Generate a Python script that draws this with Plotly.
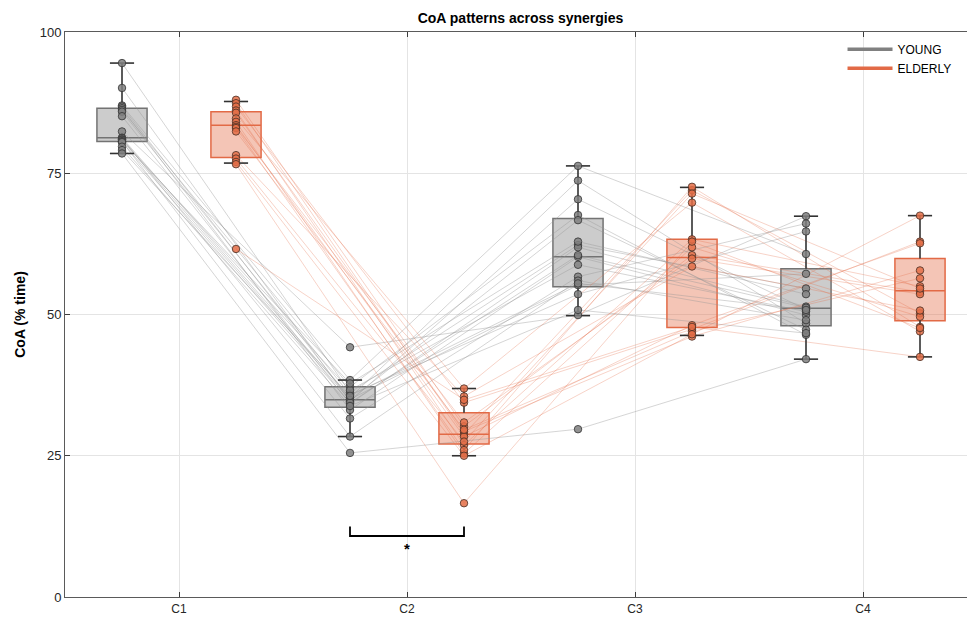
import plotly.graph_objects as go

# ---------------- data ----------------
categories = ["C1", "C2", "C3", "C4"]
cat_pos = [1, 2, 3, 4]
young_offset = -0.25
elderly_offset = 0.25

# per-subject CoA (% time), young (n=19)
young_c1 = [94.5, 90.1, 87.0, 86.8, 86.5, 86.2, 85.9, 85.1, 82.4, 81.3, 81.2, 81.0, 80.9, 80.7, 80.6, 80.5, 79.7, 79.1, 78.5]
young_c2 = [36.2, 34.6, 38.4, 35.0, 33.1, 37.2, 35.8, 34.2, 44.2, 35.3, 31.6, 36.6, 34.9, 37.8, 28.4, 34.4, 33.8, 35.6, 25.5]
young_c3 = [62.3, 70.4, 76.3, 55.2, 60.2, 67.6, 53.6, 61.9, 49.9, 73.7, 56.7, 58.8, 66.7, 62.9, 56.0, 60.5, 50.8, 55.5, 29.7]
young_c4 = [54.6, 50.9, 60.7, 57.2, 49.9, 46.4, 64.7, 51.4, 67.4, 48.4, 66.1, 50.5, 47.3, 53.6, 49.0, 51.2, 46.7, 50.8, 42.1]

# per-subject CoA (% time), elderly (n=16)
elderly_c1 = [88.0, 87.4, 86.8, 86.1, 85.7, 84.7, 84.1, 83.5, 83.2, 83.0, 82.4, 78.2, 77.6, 77.0, 76.6, 61.6]
elderly_c2 = [30.2, 28.8, 34.4, 26.9, 29.3, 36.9, 25.4, 28.4, 30.9, 26.0, 29.6, 35.5, 27.5, 25.0, 16.6, 34.9]
elderly_c3 = [60.5, 72.0, 47.4, 63.3, 46.1, 69.8, 61.9, 48.1, 59.9, 72.6, 47.0, 58.5, 71.4, 46.5, 62.9, 47.8]
elderly_c4 = [54.0, 50.2, 62.9, 55.0, 57.8, 47.0, 49.6, 62.6, 53.6, 47.8, 56.4, 50.7, 54.6, 67.5, 47.6, 42.5]

# box statistics
young_q1 = [80.6, 33.6, 54.9, 48.0]
young_med = [81.3, 34.9, 60.2, 51.1]
young_q3 = [86.5, 37.2, 67.0, 58.1]
young_lo = [78.5, 28.4, 49.8, 42.1]
young_hi = [94.5, 38.4, 76.3, 67.4]

elderly_q1 = [77.8, 27.1, 47.7, 48.9]
elderly_med = [83.5, 28.8, 60.1, 54.2]
elderly_q3 = [85.9, 32.6, 63.3, 59.9]
elderly_lo = [76.8, 25.0, 46.3, 42.5]
elderly_hi = [87.7, 36.9, 72.5, 67.5]

# significance bracket (C2 young vs elderly)
sig_x = [1.75, 1.75, 2.25, 2.25]
sig_y = [12.5, 10.8, 10.8, 12.5]
sig_label = "*"

# ---------------- styles ----------------
Y_LINE = "rgba(150,150,150,0.40)"
E_LINE = "rgba(228,110,72,0.30)"
Y_EDGE = "rgb(115,115,115)"
E_EDGE = "rgb(226,106,70)"
Y_FILL = "rgba(128,128,128,0.40)"
E_FILL = "rgba(228,110,72,0.40)"
Y_PT = "rgba(128,128,128,0.85)"
E_PT = "rgba(228,110,72,0.85)"
WHISK = "rgb(50,50,50)"
FONT = "Liberation Sans, Arial, sans-serif"

fig = go.Figure()

young = [young_c1, young_c2, young_c3, young_c4]
elderly = [elderly_c1, elderly_c2, elderly_c3, elderly_c4]
ypos = [p + young_offset for p in cat_pos]
epos = [p + elderly_offset for p in cat_pos]

# subject lines
for i in range(len(young_c1)):
    fig.add_trace(go.Scatter(x=ypos, y=[c[i] for c in young], mode="lines",
                             line=dict(color=Y_LINE, width=1), showlegend=False, hoverinfo="skip"))
for i in range(len(elderly_c1)):
    fig.add_trace(go.Scatter(x=epos, y=[c[i] for c in elderly], mode="lines",
                             line=dict(color=E_LINE, width=1), showlegend=False, hoverinfo="skip"))

# whiskers
def whiskers(pos, q1, q3, lo, hi):
    xs, ys = [], []
    cap = 0.053
    for p, a, b, l, h in zip(pos, q1, q3, lo, hi):
        xs += [p, p, None, p, p, None, p - cap, p + cap, None, p - cap, p + cap, None]
        ys += [b, h, None, a, l, None, h, h, None, l, l, None]
    return xs, ys

for pos, q1, q3, lo, hi in [(ypos, young_q1, young_q3, young_lo, young_hi),
                            (epos, elderly_q1, elderly_q3, elderly_lo, elderly_hi)]:
    wx, wy = whiskers(pos, q1, q3, lo, hi)
    fig.add_trace(go.Scatter(x=wx, y=wy, mode="lines", line=dict(color=WHISK, width=1.6),
                             showlegend=False, hoverinfo="skip"))

# boxes
fig.add_trace(go.Box(x=ypos, q1=young_q1, median=young_med, q3=young_q3,
                     lowerfence=young_q1, upperfence=young_q3, width=0.22,
                     fillcolor=Y_FILL, line=dict(color=Y_EDGE, width=1.5),
                     whiskerwidth=0, boxpoints=False, showlegend=False))
fig.add_trace(go.Box(x=epos, q1=elderly_q1, median=elderly_med, q3=elderly_q3,
                     lowerfence=elderly_q1, upperfence=elderly_q3, width=0.22,
                     fillcolor=E_FILL, line=dict(color=E_EDGE, width=1.5),
                     whiskerwidth=0, boxpoints=False, showlegend=False))

# points
px_y, py_y, px_e, py_e = [], [], [], []
for p, c in zip(ypos, young):
    px_y += [p] * len(c); py_y += c
for p, c in zip(epos, elderly):
    px_e += [p] * len(c); py_e += c
fig.add_trace(go.Scatter(x=px_y, y=py_y, mode="markers",
                         marker=dict(size=7.5, color=Y_PT, line=dict(color="rgb(50,50,50)", width=0.8)),
                         showlegend=False))
fig.add_trace(go.Scatter(x=px_e, y=py_e, mode="markers",
                         marker=dict(size=7.5, color=E_PT, line=dict(color="rgb(70,45,35)", width=0.8)),
                         showlegend=False))

# legend entries
fig.add_trace(go.Scatter(x=[None], y=[None], mode="lines", name="YOUNG",
                         line=dict(color="rgb(128,128,128)", width=3.5)))
fig.add_trace(go.Scatter(x=[None], y=[None], mode="lines", name="ELDERLY",
                         line=dict(color="rgb(226,106,70)", width=3.5)))

# significance bracket
fig.add_trace(go.Scatter(x=sig_x, y=sig_y, mode="lines", line=dict(color="black", width=1.8),
                         showlegend=False, hoverinfo="skip"))
fig.add_annotation(x=sum(sig_x) / 4, y=sig_y[1], text="<b>" + sig_label + "</b>", showarrow=False,
                   yanchor="top", yshift=-2, font=dict(size=15, color="black", family=FONT))

fig.update_layout(
    width=967, height=618,
    margin=dict(l=65, r=0, t=32, b=21),
    paper_bgcolor="white", plot_bgcolor="white",
    boxmode="overlay",
    font=dict(family=FONT, size=12, color="rgb(38,38,38)"),
    title=dict(text="<b>CoA patterns across synergies</b>", x=0.5 * (65 + 976) / 967, xanchor="center",
               y=1 - 18 / 618, yanchor="middle", font=dict(size=14, color="black", family=FONT)),
    legend=dict(x=0.862, y=0.995, xanchor="left", yanchor="top", bgcolor="rgba(0,0,0,0)",
                itemwidth=45,
                font=dict(size=12, color="black", family=FONT), tracegroupgap=0),
    xaxis=dict(range=[0.5, 0.5 + (967 - 65) / 228.0], tickvals=cat_pos, ticktext=categories,
               showgrid=True, gridcolor="rgb(228,228,228)", gridwidth=1, zeroline=False,
               showline=True, linecolor="rgb(90,90,90)", linewidth=1, mirror="ticks",
               ticks="inside", ticklen=5, tickcolor="rgb(60,60,60)", ticklabelstandoff=1,
               automargin=False,
               tickfont=dict(size=12, color="rgb(38,38,38)")),
    yaxis=dict(range=[0, 100], tickvals=[0, 25, 50, 75, 100],
               showgrid=True, gridcolor="rgb(228,228,228)", gridwidth=1, zeroline=False,
               showline=True, linecolor="rgb(90,90,90)", linewidth=1,
               ticks="inside", ticklen=5, tickcolor="rgb(60,60,60)",
               tickfont=dict(size=13, color="rgb(38,38,38)"), automargin=False,
               title=dict(text="<b>CoA (% time)</b>", font=dict(size=14, color="black", family=FONT), standoff=10)),
)

fig.write_html("out.html")
